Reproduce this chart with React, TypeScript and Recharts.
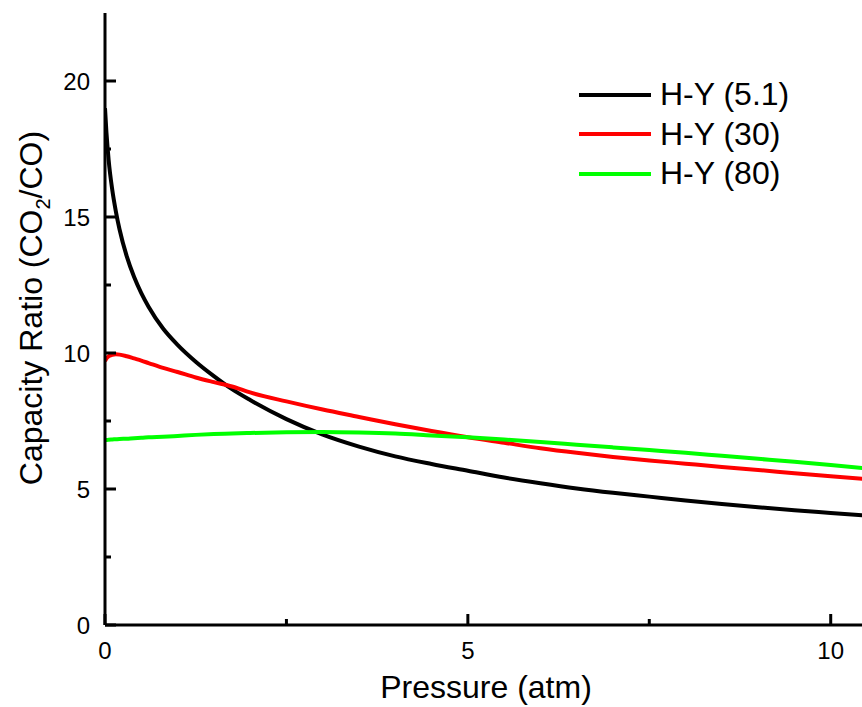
import { LineChart, Line, XAxis, YAxis } from 'recharts';

// Pressure (atm) sampled along the curves
const pressure = [0, 0.02, 0.05, 0.1, 0.15, 0.2, 0.3, 0.4, 0.5, 0.6, 0.8, 1.0, 1.25, 1.5, 1.75, 2, 2.5, 3, 3.5, 4, 4.5, 5, 5.5, 6, 6.5, 7, 7.5, 8, 8.5, 9, 9.5, 10, 10.5];

const hy51 = [19.0, 18.1, 17.1, 16.0, 15.2, 14.55, 13.55, 12.8, 12.2, 11.7, 10.9, 10.3, 9.68, 9.15, 8.67, 8.27, 7.57, 7.0, 6.56, 6.2, 5.92, 5.67, 5.42, 5.21, 5.02, 4.86, 4.72, 4.58, 4.45, 4.33, 4.22, 4.12, 4.02];
const hy30 = [9.7, 9.8, 9.88, 9.93, 9.95, 9.94, 9.88, 9.8, 9.72, 9.63, 9.45, 9.3, 9.1, 8.93, 8.77, 8.55, 8.22, 7.92, 7.65, 7.38, 7.13, 6.9, 6.7, 6.5, 6.33, 6.18, 6.05, 5.93, 5.81, 5.7, 5.58, 5.47, 5.36];
const hy80 = [6.8, 6.8, 6.81, 6.82, 6.83, 6.84, 6.85, 6.87, 6.88, 6.9, 6.92, 6.95, 6.99, 7.02, 7.04, 7.06, 7.09, 7.1, 7.08, 7.04, 6.97, 6.9, 6.82, 6.73, 6.63, 6.53, 6.43, 6.33, 6.22, 6.11, 6.0, 5.88, 5.75];

const xTicks = [0, 2.5, 5, 7.5, 10];
const yTicks = [0, 2.5, 5, 7.5, 10, 12.5, 15, 17.5, 20];

const seriesNames = ['H-Y (5.1)', 'H-Y (30)', 'H-Y (80)'];
const seriesColors = ['#000000', '#ff0000', '#00ff00'];

const data = pressure.map((p, i) => ({ p, a: hy51[i], b: hy30[i], c: hy80[i] }));

const FONT = '"Liberation Sans", Arial, sans-serif';
const AXIS_LINE = { stroke: '#000', strokeWidth: 3 };

const makeTick = (side: 'bottom' | 'left' | 'top' | 'right') => (props: any) => {
  const { x, y, payload } = props;
  const v = payload.value;
  const major = v % 5 === 0;
  const len = major ? 11 : 6;
  let line;
  let label = null;
  if (side === 'bottom') {
    line = <line x1={x} y1={y} x2={x} y2={y - len} stroke="#000" strokeWidth={3} />;
    if (major) label = <text x={x} y={y + 34} textAnchor="middle" fontSize={24} fontFamily={FONT} fill="#000">{v}</text>;
  } else if (side === 'left') {
    line = <line x1={x} y1={y} x2={x + len} y2={y} stroke="#000" strokeWidth={3} />;
    if (major) label = <text x={x - 15} y={y} dy="0.36em" textAnchor="end" fontSize={24} fontFamily={FONT} fill="#000">{v}</text>;
  } else if (side === 'top') {
    line = <line x1={x} y1={y} x2={x} y2={y + len} stroke="#000" strokeWidth={3} />;
  } else {
    line = <line x1={x} y1={y} x2={x - len} y2={y} stroke="#000" strokeWidth={3} />;
  }
  return (
    <g>
      {line}
      {label}
    </g>
  );
};

const YTitle = (props: any) => {
  const { viewBox } = props;
  const cy = viewBox.y + viewBox.height / 2 - 11;
  const x = 42;
  return (
    <text transform={`translate(${x},${cy}) rotate(-90)`} textAnchor="middle" fontSize={32} fontFamily={FONT} fill="#000">
      Capacity Ratio (CO
      <tspan fontSize={20} dy={8}>2</tspan>
      <tspan dy={-8}>/CO)</tspan>
    </text>
  );
};

const LegendBox = () => (
  <div style={{ position: 'absolute', left: 579, top: 75, fontFamily: FONT, fontSize: 32, color: '#000' }}>
    {seriesNames.map((n, i) => (
      <div key={n} style={{ display: 'flex', alignItems: 'center', height: 39.5 }}>
        <div style={{ width: 72, height: 4, background: seriesColors[i], marginRight: 9 }} />
        <span>{n}</span>
      </div>
    ))}
  </div>
);

export default function App() {
  return (
    <div style={{ position: 'absolute', left: 0, top: 0, width: 862, height: 707, overflow: 'hidden', background: '#fff' }}>
      <LineChart width={900} height={707} data={data} margin={{ top: 13, right: 33, bottom: 0, left: 0 }}>
        <XAxis
          xAxisId="bottom"
          dataKey="p"
          type="number"
          domain={[0, 10.5]}
          ticks={xTicks}
          interval={0}
          allowDataOverflow
          height={82}
          axisLine={AXIS_LINE}
          tickLine={false}
          tickSize={0}
          tickMargin={0}
          tick={makeTick('bottom')}
          label={{ value: 'Pressure (atm)', position: 'insideBottom', offset: 9, fontSize: 32, fontFamily: FONT, fill: '#000' }}
        />
        <XAxis
          xAxisId="top"
          orientation="top"
          dataKey="p"
          type="number"
          domain={[0, 10.5]}
          ticks={xTicks}
          interval={0}
          allowDataOverflow
          height={0}
          axisLine={AXIS_LINE}
          tickLine={false}
          tickSize={0}
          tickMargin={0}
          tick={makeTick('top')}
        />
        <YAxis
          yAxisId="left"
          type="number"
          domain={[0, 22.5]}
          ticks={yTicks}
          interval={0}
          allowDataOverflow
          width={105}
          axisLine={AXIS_LINE}
          tickLine={false}
          tickSize={0}
          tickMargin={0}
          tick={makeTick('left')}
          label={{ content: YTitle }}
        />
        <YAxis
          yAxisId="right"
          orientation="right"
          type="number"
          domain={[0, 22.5]}
          ticks={yTicks}
          interval={0}
          allowDataOverflow
          width={0}
          axisLine={AXIS_LINE}
          tickLine={false}
          tickSize={0}
          tickMargin={0}
          tick={makeTick('right')}
        />
        <Line xAxisId="bottom" yAxisId="left" type="monotone" dataKey="a" stroke={seriesColors[0]} strokeWidth={4} dot={false} isAnimationActive={false} />
        <Line xAxisId="bottom" yAxisId="left" type="monotone" dataKey="b" stroke={seriesColors[1]} strokeWidth={4} dot={false} isAnimationActive={false} />
        <Line xAxisId="bottom" yAxisId="left" type="monotone" dataKey="c" stroke={seriesColors[2]} strokeWidth={4} dot={false} isAnimationActive={false} />
      </LineChart>
      <LegendBox />
    </div>
  );
}
